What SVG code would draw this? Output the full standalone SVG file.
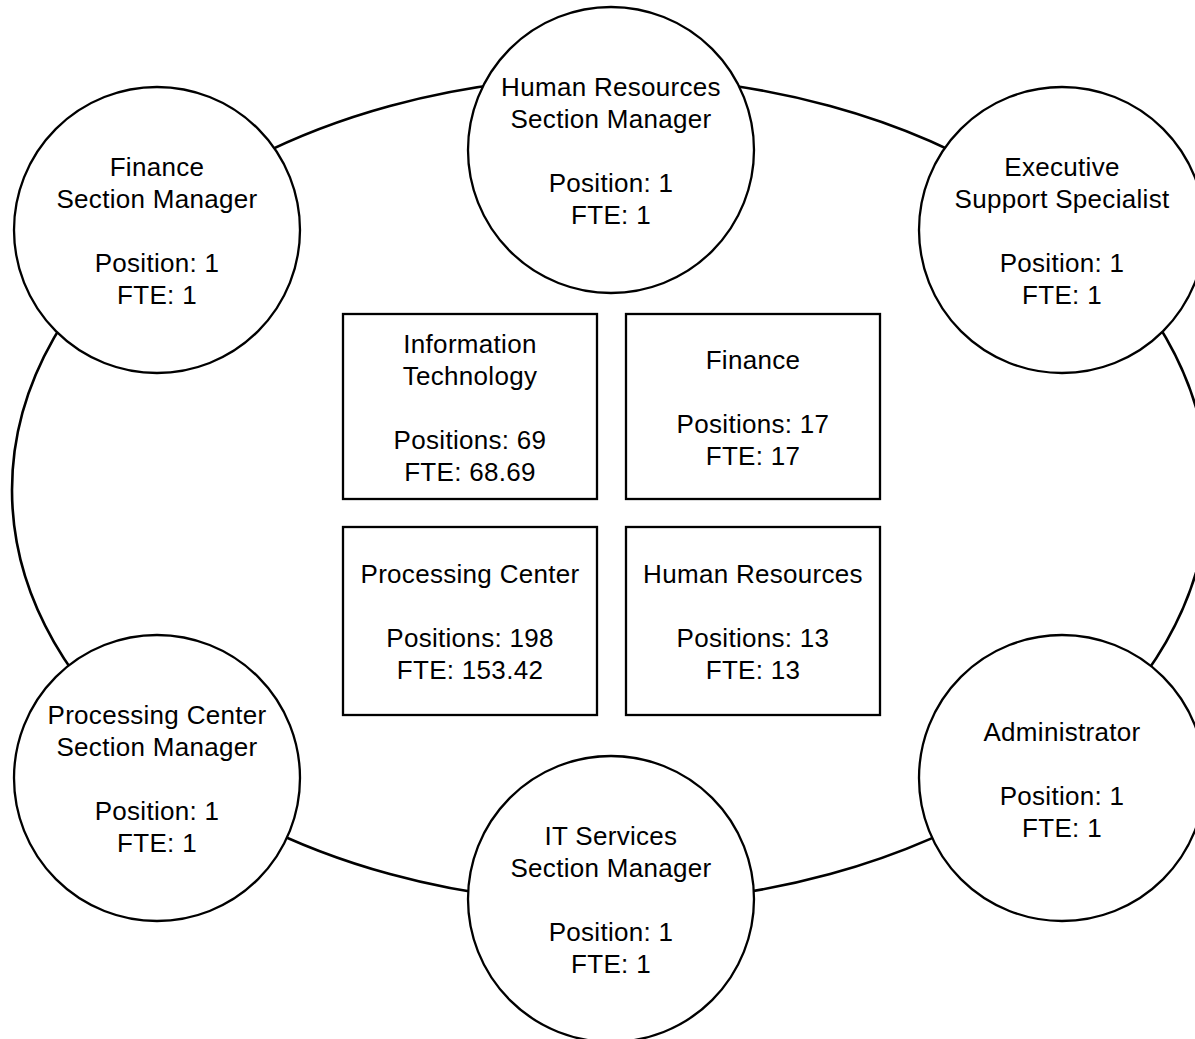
<svg xmlns="http://www.w3.org/2000/svg" width="1195" height="1039" viewBox="0 0 1195 1039">
  <style>
    .ring { fill: none; stroke: #000; stroke-width: 2.6; }
    .node { fill: #fff; stroke: #000; stroke-width: 2.3; }
    .box { fill: #fff; stroke: #000; stroke-width: 2.3; }
    text { font-family: "Liberation Sans", Arial, Helvetica, sans-serif; font-size: 26px; letter-spacing: 0.3px; fill: #000; text-anchor: middle; }
  </style>
  <rect width="1195" height="1039" fill="#fff"/>

  <!-- ring linking the section roles -->
  <g id="connectors">
    <ellipse class="ring" cx="610" cy="490" rx="598" ry="413"/>
  </g>

  <g id="finance-section-manager">
    <circle class="node" cx="157" cy="230" r="143"/>
    <text x="157" y="176">Finance</text>
    <text x="157" y="208">Section Manager</text>
    <text x="157" y="272">Position: 1</text>
    <text x="157" y="304">FTE: 1</text>
  </g>

  <g id="hr-section-manager">
    <circle class="node" cx="611" cy="150" r="143"/>
    <text x="611" y="96">Human Resources</text>
    <text x="611" y="128">Section Manager</text>
    <text x="611" y="192">Position: 1</text>
    <text x="611" y="224">FTE: 1</text>
  </g>

  <g id="executive-support-specialist">
    <circle class="node" cx="1062" cy="230" r="143"/>
    <text x="1062" y="176">Executive</text>
    <text x="1062" y="208">Support Specialist</text>
    <text x="1062" y="272">Position: 1</text>
    <text x="1062" y="304">FTE: 1</text>
  </g>

  <g id="processing-center-section-manager">
    <circle class="node" cx="157" cy="778" r="143"/>
    <text x="157" y="724">Processing Center</text>
    <text x="157" y="756">Section Manager</text>
    <text x="157" y="820">Position: 1</text>
    <text x="157" y="852">FTE: 1</text>
  </g>

  <g id="administrator">
    <circle class="node" cx="1062" cy="778" r="143"/>
    <text x="1062" y="741">Administrator</text>
    <text x="1062" y="805">Position: 1</text>
    <text x="1062" y="837">FTE: 1</text>
  </g>

  <g id="it-services-section-manager">
    <circle class="node" cx="611" cy="899" r="143"/>
    <text x="611" y="845">IT Services</text>
    <text x="611" y="877">Section Manager</text>
    <text x="611" y="941">Position: 1</text>
    <text x="611" y="973">FTE: 1</text>
  </g>

  <g id="information-technology">
    <rect class="box" x="343" y="314" width="254" height="185"/>
    <text x="470" y="353">Information</text>
    <text x="470" y="385">Technology</text>
    <text x="470" y="449">Positions: 69</text>
    <text x="470" y="481">FTE: 68.69</text>
  </g>

  <g id="finance">
    <rect class="box" x="626" y="314" width="254" height="185"/>
    <text x="753" y="369">Finance</text>
    <text x="753" y="433">Positions: 17</text>
    <text x="753" y="465">FTE: 17</text>
  </g>

  <g id="processing-center">
    <rect class="box" x="343" y="527" width="254" height="188"/>
    <text x="470" y="583">Processing Center</text>
    <text x="470" y="647">Positions: 198</text>
    <text x="470" y="679">FTE: 153.42</text>
  </g>

  <g id="human-resources">
    <rect class="box" x="626" y="527" width="254" height="188"/>
    <text x="753" y="583">Human Resources</text>
    <text x="753" y="647">Positions: 13</text>
    <text x="753" y="679">FTE: 13</text>
  </g>
</svg>
